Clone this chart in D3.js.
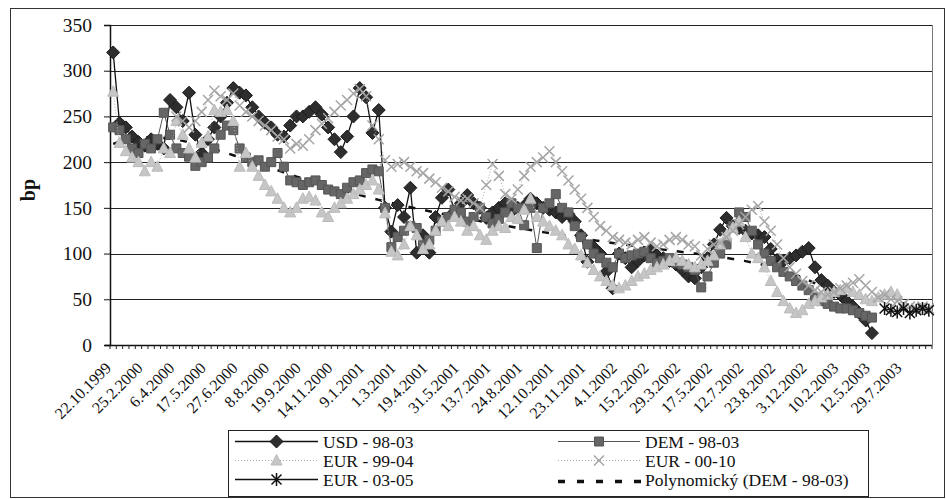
<!DOCTYPE html>
<html lang="cs">
<head>
<meta charset="utf-8">
<script src="https://d3js.org/d3.v7.min.js"></script>
<style>
body { margin: 0; background: #fff; }
svg { display: block; }
svg text { font-family: "Liberation Serif", "Times New Roman", serif; }
</style>
</head>
<body>
<script>
// categories (weekly-ish dates, only every 5th one is labelled)
const nCat = 130;
const labelStep = 5;
const tickLabels = ["22.10.1999", "25.2.2000", "6.4.2000", "17.5.2000", "27.6.2000",
  "8.8.2000", "19.9.2000", "14.11.2000", "9.1.2001", "1.3.2001", "19.4.2001",
  "31.5.2001", "13.7.2001", "24.8.2001", "12.10.2001", "23.11.2001", "4.1.2002",
  "15.2.2002", "29.3.2002", "17.5.2002", "12.7.2002", "23.8.2002", "3.12.2002",
  "10.2.2003", "12.5.2003", "29.7.2003"];
const yTicks = [0, 50, 100, 150, 200, 250, 300, 350];

// series values (bp)
const usd = [
  320, 243, 238, 228, 222, 218, 225, 220, 215, 268,
  260, 245, 276, 230, 210, 225, 238, 250, 265, 281,
  276, 273, 260, 250, 243, 238, 230, 228, 240, 250,
  250, 255, 260, 252, 238, 225, 211, 228, 250, 281,
  271, 232, 257, 150, 124, 153, 140, 172, 101, 120,
  101, 140, 161, 170, 146, 155, 164, 155, 150, 139,
  145, 150, 155, 146, 150, 152, 160, 155, 150, 148,
  145, 140, 143, 135, 120, 91, 107, 100, 80, 62,
  100, 95, 85, 92, 98, 104, 98, 95, 92, 88,
  82, 75, 73, 85, 95, 110, 126, 139, 130, 128,
  125, 122, 120, 118, 105, 93, 92, 95, 98, 102,
  106, 85, 71, 65, 58, 55, 48, 42, 35, 27, 13];
const usdStart = 0;

const dem = [
  238, 235, 225, 215, 210, 220, 215, 225, 254, 230,
  215, 210, 206, 196, 200, 205, 215, 230, 240, 235,
  215, 205, 200, 202, 195, 200, 210, 195, 180, 178,
  175, 178, 180, 175, 170, 168, 165, 172, 178, 180,
  188, 192, 190, 150, 107, 118, 125, 130, 128, 110,
  115, 125, 135, 140, 148, 145, 135, 140, 150, 140,
  133, 138, 145, 155, 150, 131, 150, 106, 150, 155,
  165, 150, 145, 130, 118, 110, 100, 95, 90, 85,
  100, 95, 98, 100, 102, 95, 90, 92, 95, 90,
  88, 85, 82, 63, 75, 90, 100, 110, 130, 145,
  140, 125, 110, 100, 92, 85, 80, 75, 70, 65,
  60, 52, 48, 45, 42, 40, 40, 38, 35, 32, 30];
const demStart = 0;

const eur9904 = [
  277, 221, 212, 205, 200, 190, 200, 195, 215, 210,
  245, 230, 215, 205, 221, 228, 257, 255, 257, 245,
  195, 210, 195, 185, 175, 168, 160, 150, 145, 150,
  160, 162, 158, 145, 140, 150, 155, 160, 165, 170,
  175, 180, 170, 144, 102, 98, 110, 130, 120, 105,
  110, 125, 135, 130, 140, 135, 125, 130, 120, 115,
  125, 130, 128, 140, 138, 148, 160, 140, 135, 130,
  125, 120, 110, 105, 98, 90, 82, 75, 70, 65,
  62, 65, 70, 75, 78, 82, 85, 88, 92, 95,
  92, 88, 85, 88, 92, 98, 110, 120, 128, 135,
  118, 100, 95, 85, 70, 58, 48, 40, 35, 38,
  45, 48, 52, 55, 58, 60, 62, 58, 55, 50,
  48, 52, 55, 58, 55];
const eur9904Start = 0;

const eur0010 = [
  250, 245, 238, 245, 255, 268, 278, 272, 268, 275,
  262, 255, 250, 245, 240, 235, 228, 225, 215, 220,
  218, 225, 235, 242, 248, 255, 262, 268, 275, 280,
  272, 240, 225, 202, 195, 198, 200, 195, 190, 188,
  182, 178, 172, 168, 162, 158, 160, 155, 150, 175,
  198, 185, 165, 160, 170, 185, 195, 200, 205, 212,
  200, 190, 180, 170, 160, 150, 140, 130, 125, 118,
  115, 112, 110, 115, 118, 112, 108, 110, 115, 118,
  115, 110, 108, 98, 105, 110, 112, 118, 125, 132,
  140, 148, 152, 135, 125, 110, 95, 85, 78, 70,
  65, 60, 58, 55, 58, 62, 65, 68, 72, 65,
  58, 52, 55, 50, 48, 45, 42, 40, 42, 40];
const eur0010Start = 10;

const eur0305 = [40, 38, 36, 40, 35, 38, 40, 38];
const eur0305Start = 122;

const W = 946, H = 499;
const plot = { left: 110, right: 932, top: 25, bottom: 345 };
const serif = "Liberation Serif, Times New Roman, serif";

const svg = d3.select("body").append("svg")
  .attr("width", W).attr("height", H);

svg.append("rect").attr("width", W).attr("height", H).attr("fill", "#fff");

// outer chart frame
svg.append("rect")
  .attr("x", 10.5).attr("y", 8.5).attr("width", 934).attr("height", 489)
  .attr("fill", "none").attr("stroke", "#333").attr("stroke-width", 1);

const x = d3.scaleBand().domain(d3.range(nCat)).range([plot.left, plot.right]);
const y = d3.scaleLinear().domain([0, 350]).range([plot.bottom, plot.top]);
const cx = i => x(i) + x.bandwidth() / 2;

// gridlines
svg.append("g").selectAll("line")
  .data(yTicks.slice(1))
  .join("line")
  .attr("x1", plot.left).attr("x2", plot.right)
  .attr("y1", d => Math.round(y(d)) + 0.5).attr("y2", d => Math.round(y(d)) + 0.5)
  .attr("stroke", "#222").attr("stroke-width", 1);

// right border of plot area
svg.append("line")
  .attr("x1", plot.right + 0.5).attr("x2", plot.right + 0.5)
  .attr("y1", plot.top).attr("y2", plot.bottom)
  .attr("stroke", "#777");

// y axis
const yAxis = svg.append("g")
  .attr("transform", `translate(${plot.left},0)`)
  .call(d3.axisLeft(y).tickValues(yTicks).tickSize(6).tickPadding(12));
yAxis.attr("font-family", serif);
yAxis.select(".domain").attr("stroke", "#111").attr("stroke-width", 1.5);
yAxis.selectAll(".tick line").attr("stroke", "#111");
yAxis.selectAll(".tick text")
  .attr("font-family", serif).attr("font-size", 19.5).attr("fill", "#111");

svg.append("text")
  .attr("transform", "translate(35,190) rotate(-90)")
  .attr("text-anchor", "middle")
  .attr("font-family", serif)
  .attr("font-size", 20).attr("font-weight", "bold").attr("fill", "#111")
  .text("bp");

// x axis: base line, dense tick marks between categories, rotated labels
svg.append("line")
  .attr("x1", plot.left - 5).attr("x2", plot.right)
  .attr("y1", plot.bottom + 0.5).attr("y2", plot.bottom + 0.5)
  .attr("stroke", "#111").attr("stroke-width", 1.5);

svg.append("g").selectAll("line")
  .data(d3.range(nCat + 1))
  .join("line")
  .attr("x1", i => (i < nCat ? x(i) : plot.right))
  .attr("x2", i => (i < nCat ? x(i) : plot.right))
  .attr("y1", plot.bottom).attr("y2", plot.bottom + 4)
  .attr("stroke", "#222").attr("stroke-width", 1);

svg.append("g").selectAll("text")
  .data(tickLabels)
  .join("text")
  .attr("transform", (d, k) => `translate(${cx(k * labelStep) - 1},${plot.bottom + 24}) rotate(-45)`)
  .attr("text-anchor", "end")
  .attr("font-family", serif)
  .attr("font-size", 16).attr("fill", "#111")
  .text(d => d);

// markers
const markerPath = {
  diamond: "M0,-6.5L6.5,0L0,6.5L-6.5,0Z",
  square: "M-4.5,-4.5h9v9h-9Z",
  triangle: "M0,-6L5.5,4.5L-5.5,4.5Z",
  cross: "M-5,-5L5,5M5,-5L-5,5",
  star: "M-5,-5L5,5M5,-5L-5,5M0,-6.5L0,6.5"
};

const series = [
  { name: "USD - 98-03", values: usd, start: usdStart, line: "#111", lw: 1.3, dash: null,
    marker: "diamond", fill: "#2e2e2e", stroke: "#1a1a1a" },
  { name: "DEM - 98-03", values: dem, start: demStart, line: "#555", lw: 1, dash: null,
    marker: "square", fill: "#666", stroke: "#555" },
  { name: "EUR - 99-04", values: eur9904, start: eur9904Start, line: "#aaa", lw: 1, dash: "1,2",
    marker: "triangle", fill: "#c6c6c6", stroke: "#bbb" },
  { name: "EUR - 00-10", values: eur0010, start: eur0010Start, line: "#aaa", lw: 1, dash: "1,2",
    marker: "cross", fill: "none", stroke: "#a6a6a6" },
  { name: "EUR - 03-05", values: eur0305, start: eur0305Start, line: "#111", lw: 1.3, dash: null,
    marker: "star", fill: "none", stroke: "#111" }
];

const line = d3.line().x(d => cx(d.i)).y(d => y(d.v));

// polynomial trendline of DEM (least squares, 6th order, as in the spreadsheet)
function polyFit(xs, ys, deg) {
  const n = deg + 1;
  const A = d3.range(n).map(() => new Array(n + 1).fill(0));
  xs.forEach((xv, k) => {
    const p = d3.range(n).map(j => Math.pow(xv, j));
    for (let r = 0; r < n; r++) {
      for (let c = 0; c < n; c++) A[r][c] += p[r] * p[c];
      A[r][n] += p[r] * ys[k];
    }
  });
  for (let c = 0; c < n; c++) {
    let piv = c;
    for (let r = c + 1; r < n; r++) if (Math.abs(A[r][c]) > Math.abs(A[piv][c])) piv = r;
    [A[c], A[piv]] = [A[piv], A[c]];
    for (let r = 0; r < n; r++) {
      if (r === c) continue;
      const f = A[r][c] / A[c][c];
      for (let k = c; k <= n; k++) A[r][k] -= f * A[c][k];
    }
  }
  return A.map((row, r) => row[n] / row[r]);
}
const demIdx = dem.map((v, k) => demStart + k);
const mid = (demIdx[0] + demIdx[demIdx.length - 1]) / 2;
const half = (demIdx[demIdx.length - 1] - demIdx[0]) / 2;
const coef = polyFit(demIdx.map(i => (i - mid) / half), dem, 6);
const trend = demIdx.map(i => {
  const t = (i - mid) / half;
  return { i, v: coef.reduce((s, c, j) => s + c * Math.pow(t, j), 0) };
});

// trendline sits underneath the markers (hardly visible in the original)
svg.append("path")
  .attr("d", line(trend))
  .attr("fill", "none").attr("stroke", "#111").attr("stroke-width", 2.5)
  .attr("stroke-dasharray", "7,10");

const gSeries = svg.append("g");
series.forEach(s => {
  const pts = s.values.map((v, k) => ({ i: s.start + k, v }));
  const g = gSeries.append("g");
  g.append("path")
    .attr("d", line(pts))
    .attr("fill", "none").attr("stroke", s.line).attr("stroke-width", s.lw)
    .attr("stroke-dasharray", s.dash);
  g.selectAll("path.m")
    .data(pts)
    .join("path")
    .attr("class", "m")
    .attr("transform", d => `translate(${cx(d.i)},${y(d.v)})`)
    .attr("d", markerPath[s.marker])
    .attr("fill", s.fill).attr("stroke", s.stroke).attr("stroke-width", s.marker === "cross" || s.marker === "star" ? 1.5 : 1);
});

// legend
const legend = svg.append("g");
legend.append("rect")
  .attr("x", 228.5).attr("y", 430.5).attr("width", 640).attr("height", 66)
  .attr("fill", "#fff").attr("stroke", "#222");

const legendItems = [
  { s: series[0], col: 0, row: 0 },
  { s: series[1], col: 1, row: 0 },
  { s: series[2], col: 0, row: 1 },
  { s: series[3], col: 1, row: 1 },
  { s: series[4], col: 0, row: 2 },
  { s: { name: "Polynomický (DEM - 98-03)", trend: true }, col: 1, row: 2 }
];
const colX = [{ l0: 235, l1: 318, text: 323 }, { l0: 558, l1: 640, text: 645 }];
const rowY = [441.5, 460.5, 479.5];

legendItems.forEach(it => {
  const c = colX[it.col], ry = rowY[it.row];
  const g = legend.append("g");
  if (it.s.trend) {
    g.append("line")
      .attr("x1", c.l0).attr("x2", c.l1 + 2).attr("y1", ry + 2).attr("y2", ry + 2)
      .attr("stroke", "#111").attr("stroke-width", 3.5).attr("stroke-dasharray", "7,12");
  } else {
    g.append("line")
      .attr("x1", c.l0).attr("x2", c.l1).attr("y1", ry).attr("y2", ry)
      .attr("stroke", it.s.line).attr("stroke-width", it.s.lw).attr("stroke-dasharray", it.s.dash);
    g.append("path")
      .attr("transform", `translate(${(c.l0 + c.l1) / 2},${ry})`)
      .attr("d", markerPath[it.s.marker])
      .attr("fill", it.s.fill).attr("stroke", it.s.stroke)
      .attr("stroke-width", it.s.marker === "cross" || it.s.marker === "star" ? 1.5 : 1);
  }
  g.append("text")
    .attr("x", c.text).attr("y", ry + 6)
    .attr("font-family", serif)
    .attr("font-size", 17.5).attr("fill", "#111")
    .text(it.s.name);
});
</script>
</body>
</html>
